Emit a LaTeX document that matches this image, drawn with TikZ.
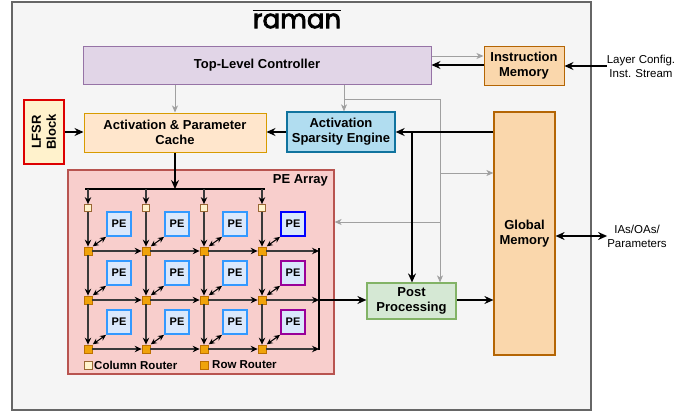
\documentclass[tikz,border=0pt]{standalone}
\usepackage{fontspec}
\setmainfont{Liberation Sans}
\newfontfamily\logofont[FakeBold=3]{Poppins}
\usetikzlibrary{arrows.meta,calc}

\definecolor{bgfill}{HTML}{F5F5F5}
\definecolor{bgdraw}{HTML}{666666}
\definecolor{ctlfill}{HTML}{E1D5E7}
\definecolor{ctldraw}{HTML}{9673A6}
\definecolor{memfill}{HTML}{FAD7AC}
\definecolor{memdraw}{HTML}{B46504}
\definecolor{cachefill}{HTML}{FFE6CC}
\definecolor{cachedraw}{HTML}{D79B00}
\definecolor{asefill}{HTML}{B1DDF0}
\definecolor{asedraw}{HTML}{10739E}
\definecolor{lfsrfill}{HTML}{FFF2CC}
\definecolor{lfsrdraw}{HTML}{DD0000}
\definecolor{ppfill}{HTML}{D5E8D4}
\definecolor{ppdraw}{HTML}{82B366}
\definecolor{pafill}{HTML}{F8CECC}
\definecolor{padraw}{HTML}{B85450}
\definecolor{pefill}{HTML}{DAE8FC}
\definecolor{peblue}{HTML}{3399FF}
\definecolor{pedark}{HTML}{0000FF}
\definecolor{pepurple}{HTML}{990099}
\definecolor{crfill}{HTML}{FFF2CC}
\definecolor{crdraw}{HTML}{996633}
\definecolor{rrfill}{HTML}{F0A30A}
\definecolor{rrdraw}{HTML}{BD7000}
\definecolor{ctlline}{HTML}{A0A0A0}
\definecolor{gridline}{HTML}{3A3A3A}

\begin{document}
\begin{tikzpicture}[x=1pt,y=-1pt,
  box/.style={draw, line width=1pt, align=center, inner sep=0pt,
    font=\bfseries\fontsize{13}{15}\selectfont},
  lbl/.style={align=center, inner sep=0pt, font=\fontsize{11.5}{14}\selectfont},
  arr/.style={line width=1.3pt, -{Stealth[length=9pt,width=8pt,inset=3pt]}},
  darr/.style={line width=1.3pt, {Stealth[length=9pt,width=8pt,inset=3pt]}-{Stealth[length=9pt,width=8pt,inset=3pt]}},
  garr/.style={ctlline, line width=1pt, -{Stealth[length=7pt,width=6pt,inset=2pt]}},
  net/.style={gridline, line width=1.1pt, -{Stealth[length=7pt,width=6.5pt,inset=2.4pt,black]}},
  pedarr/.style={black, line width=1pt, shorten <=0.5pt, shorten >=0.5pt,
    {Stealth[length=6pt,width=5.5pt,inset=2pt]}-{Stealth[length=6pt,width=5.5pt,inset=2pt]}},
  pe/.style={draw=peblue, fill=pefill, line width=1.2pt, minimum size=24pt, inner sep=0pt,
    font=\bfseries\fontsize{11}{11}\selectfont},
  colrouter/.style={draw=crdraw, fill=crfill, line width=0.8pt, minimum size=7pt, inner sep=0pt},
  rowrouter/.style={draw=rrdraw, fill=rrfill, line width=0.8pt, minimum size=8pt, inner sep=0pt}]

\useasboundingbox (0,0) rectangle (696,415);

% outer frame
\draw[bgdraw, fill=bgfill, line width=1.3pt] (12,2) rectangle (591,410);

% logo
\node[inner sep=0pt, font=\logofont\fontsize{26}{26}\selectfont] (logo) at (297,21) {raman};
\draw[line width=1.5pt] ([yshift=3pt]logo.north west) -- ([yshift=3pt]logo.north east);

% main blocks
\node[box, fill=ctlfill, draw=ctldraw, minimum width=348pt, minimum height=38pt] (TLC) at (257,65) {Top-Level Controller};
\node[box, fill=memfill, draw=memdraw, minimum width=80pt, minimum height=39pt] (IM) at (524,65.5) {Instruction\\Memory};
\node[box, fill=lfsrfill, draw=lfsrdraw, line width=1.3pt, minimum width=40pt, minimum height=64pt] (LFSR) at (44,132) {};
\node[rotate=90, align=center, inner sep=0pt, font=\bfseries\fontsize{13}{15}\selectfont] (LFSRtxt) at (LFSR.center) {LFSR\\Block};
\node[box, fill=cachefill, draw=cachedraw, minimum width=182pt, minimum height=39pt] (Cache) at (175,132.5) {Activation \& Parameter\\Cache};
\node[box, fill=asefill, draw=asedraw, line width=1.3pt, minimum width=108pt, minimum height=40pt] (ASE) at (341,132) {Activation\\Sparsity Engine};
\node[box, fill=memfill, draw=memdraw, line width=1.2pt, minimum width=61pt, minimum height=243pt] (GM) at (524.5,233.5) {Global\\Memory};
\node[box, fill=ppfill, draw=ppdraw, line width=1.2pt, minimum width=89pt, minimum height=36pt] (PP) at (411.5,301) {Post\\Processing};
\node[draw=padraw, fill=pafill, line width=1.2pt, minimum width=266pt, minimum height=204pt, inner sep=0pt] (PEA) at (201,272) {};
\node[anchor=north east, inner sep=0pt, font=\bfseries\fontsize{13}{15}\selectfont] (PEAtxt) at (328,174) {PE Array};

% external labels
\node[lbl] (LC) at (641,66) {Layer Config.\\Inst. Stream};
\node[lbl] (IAS) at (637,236) {IAs/OAs/\\Parameters};

% routers and processing elements
\foreach \c/\x in {1/88,2/146,3/204,4/262} {
  \node[colrouter] (cr\c) at (\x,208) {};
  \foreach \r/\y in {1/251,2/300,3/349}
    \node[rowrouter] (rr\c\r) at (\x,\y) {};
}
\foreach \c/\x in {1/88,2/146,3/204}
  \foreach \r/\y in {1/251,2/300,3/349}
    \node[pe] (pe\c\r) at (\x+31,\y-27) {PE};
\node[pe, draw=pedark] (pe41) at (293,224) {PE};
\node[pe, draw=pepurple] (pe42) at (293,273) {PE};
\node[pe, draw=pepurple] (pe43) at (293,322) {PE};

% network inside the array
\coordinate (busL) at (85,189);
\coordinate (busR) at (265,189);
\coordinate (barT) at (319,248);
\coordinate (barB) at (319,350);
\draw[black, line width=1.2pt] (busL) -- (busR);
\draw[black, line width=1.2pt] (barT) -- (barB);
\foreach \c in {1,2,3,4} {
  \draw[net] (cr\c |- busL) -- (cr\c.north);
  \draw[net] (cr\c.south) -- (rr\c1.north);
  \draw[net] (rr\c1.south) -- (rr\c2.north);
  \draw[net] (rr\c2.south) -- (rr\c3.north);
  \foreach \r in {1,2,3}
    \draw[pedarr] (rr\c\r.north east) -- (pe\c\r.south west);
}
\foreach \r in {1,2,3} {
  \draw[net] (rr1\r.east) -- (rr2\r.west);
  \draw[net] (rr2\r.east) -- (rr3\r.west);
  \draw[net] (rr3\r.east) -- (rr4\r.west);
  \draw[net] (rr4\r.east) -- (barT |- rr4\r);
}

% legend
\node[colrouter, minimum size=8pt] (lgc) at (88,365) {};
\node[anchor=west, inner sep=0pt, font=\bfseries\fontsize{11.5}{14}\selectfont] (lgctxt) at (94,365) {Column Router};
\node[rowrouter] (lgr) at (204,365) {};
\node[anchor=west, inner sep=0pt, font=\bfseries\fontsize{11.5}{14}\selectfont] (lgrtxt) at (212,365) {Row Router};

% control paths
\coordinate (gx) at (344,99);
\coordinate (gt) at (440,99);
\coordinate (gm1) at (440,173);
\coordinate (pa1) at (440,222);
\draw[garr] ([yshift=9pt]TLC.east) -- ([yshift=9pt]TLC.east -| IM.west);
\draw[garr] (TLC.south -| Cache.north) -- (Cache.north);
\draw[garr] (TLC.south -| gx) -- (ASE.north -| gx);
\draw[garr] (gx) -- (gt) -- (gt |- PP.north);
\draw[garr] (gm1) -- (gm1 -| GM.west);
\draw[garr] (pa1) -- (pa1 -| PEA.east);

% data paths
\coordinate (j1) at (412,132);
\draw[arr] (IM.west |- TLC.east) -- (TLC.east);
\draw[arr] (LC.west) -- (LC.west -| IM.east);
\draw[arr] (LFSR.east) -- (LFSR.east -| Cache.west);
\draw[arr] (ASE.west) -- (ASE.west -| Cache.east);
\draw[arr] (GM.west |- ASE.east) -- (ASE.east);
\draw[arr] (j1) -- (j1 |- PP.north);
\draw[arr] (Cache.south) -- (Cache.south |- busL);
\draw[arr] (barT |- rr42) -- (PP.west |- rr42);
\draw[arr] (PP.east |- rr42) -- (GM.west |- rr42);
\draw[darr] (GM.east |- IAS) -- (IAS.west);

\end{tikzpicture}
\end{document}
